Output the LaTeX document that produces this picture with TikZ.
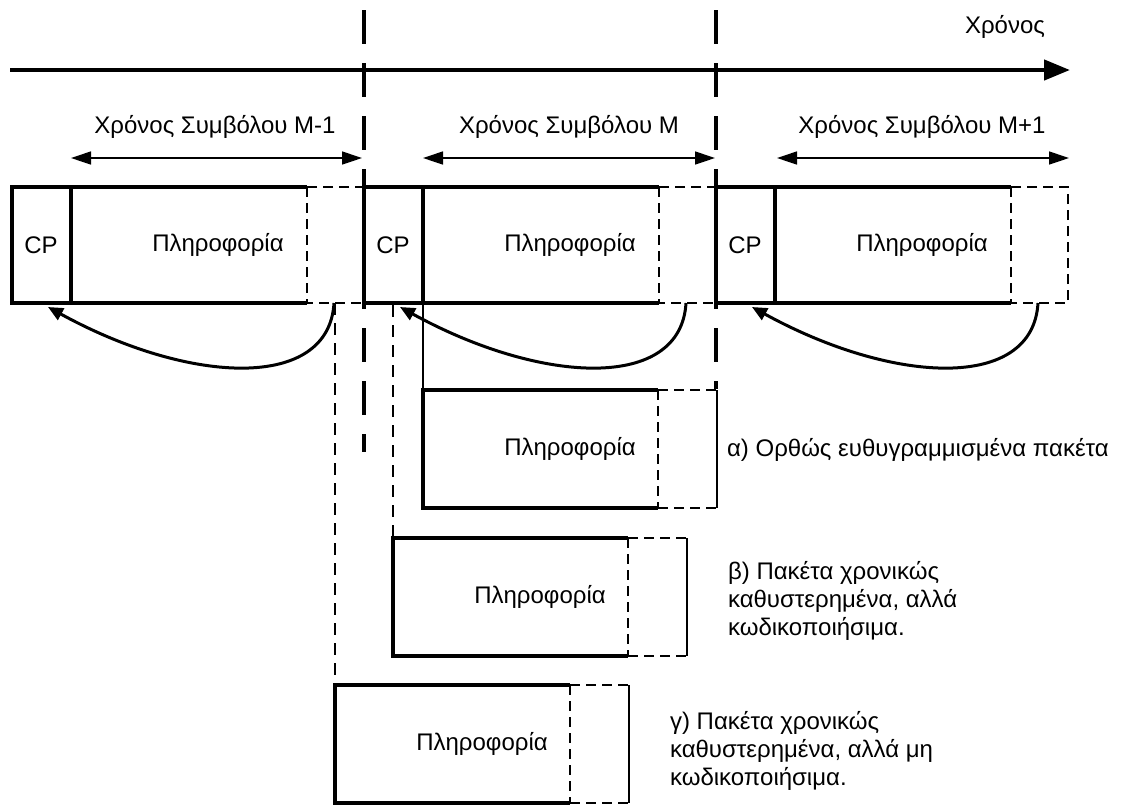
\documentclass[tikz,border=0pt]{standalone}
\usepackage{fontspec}
\setmainfont{Liberation Sans}
\usepackage{tikz}
\usetikzlibrary{arrows.meta}

\tikzset{
    thickline/.style={line width=1.6pt},
    copyline/.style={line width=0.7pt, dash pattern=on 5pt off 3pt},
    guideline/.style={line width=0.7pt, dash pattern=on 6pt off 4pt},
    boundary/.style={line width=2pt, dash pattern=on 17pt off 9.5pt},
    spanarrow/.style={line width=0.7pt, {Triangle[length=10pt,width=6.5pt]}-{Triangle[length=10pt,width=6.5pt]}},
    cpcopy/.style={line width=1.5pt, -{Triangle[length=7.5pt,width=6.5pt]}},
}

\begin{document}
\begin{tikzpicture}[x=50pt, y=-50pt, font=\fontsize{12}{14}\selectfont]
    \useasboundingbox (0,0) rectangle (11.26,8.05);

    % Timeline
    \node (time) at (10.05,0.27) {Χρόνος};
    \coordinate (t0) at (0.10,0.70);
    \coordinate (t1) at (10.70,0.70);
    \draw[line width=2.2pt, -{Triangle[length=13pt,width=10pt]}] (t0) -- (t1);

    % Symbol boundaries
    \draw[boundary] (3.64,0.10) -- (3.64,4.52);
    \draw[boundary] (7.16,0.10) -- (7.16,3.89);

    % Symbol durations
    \foreach \a/\b/\c/\n [count=\i] in {0.71/3.62/2.15/M-1, 4.23/7.15/5.69/M, 7.77/10.69/9.22/M+1} {
        \node (dur\i) at (\c,1.27) {Χρόνος Συμβόλου \n};
        \coordinate (from\i) at (\a,1.58);
        \coordinate (to\i) at (\b,1.58);
        \draw[spanarrow] (from\i) -- (to\i);
    }

    % Symbols with cyclic prefix
    \foreach \s [count=\i] in {0.12,3.64,7.16} {
        \draw[thickline] (\s+2.95,1.87) -- (\s,1.87) -- (\s,3.03) -- (\s+2.95,3.03);
        \draw[thickline] (\s+0.59,1.87) -- (\s+0.59,3.03);
        \draw[copyline] (\s+2.95,1.87) rectangle (\s+3.52,3.03);
        \node (cp\i) at (\s+0.29,2.45) {CP};
        \node (info\i) at (\s+2.06,2.45) {Πληροφορία};
        \coordinate (tail\i) at (\s+3.22,3.03);
        \coordinate (head\i) at (\s+0.36,3.07);
        \draw[cpcopy] (tail\i) .. controls +(-0.05,0.88) and +(1.42,0.78) .. (head\i);
    }

    % Alignment guides
    \draw[guideline] (3.35,3.03) -- (3.35,6.85);
    \draw[guideline] (3.93,3.05) -- (3.93,5.38);
    \draw[line width=0.7pt] (4.23,3.03) -- (4.23,3.90);

    % Received windows
    \foreach \l/\t [count=\i] in {4.23/3.90, 3.93/5.38, 3.35/6.85} {
        \draw[thickline] (\l+2.35,\t) -- (\l,\t) -- (\l,\t+1.18) -- (\l+2.35,\t+1.18);
        \draw[copyline] (\l+2.35,\t) -- (\l+2.94,\t);
        \draw[copyline] (\l+2.35,\t+1.18) -- (\l+2.94,\t+1.18);
        \draw[copyline] (\l+2.35,\t) -- (\l+2.35,\t+1.18);
        \draw[line width=1pt] (\l+2.94,\t) -- (\l+2.94,\t+1.18);
        \node (win\i) at (\l+1.47,\t+0.59) {Πληροφορία};
    }

    % Cases
    \node[anchor=west] (casea) at (7.20,4.50) {α) Ορθώς ευθυγραμμισμένα πακέτα};
    \node[anchor=west, align=left] (caseb) at (7.21,6.01) {β) Πακέτα χρονικώς\\καθυστερημένα, αλλά\\κωδικοποιήσιμα.};
    \node[anchor=west, align=left] (casec) at (6.63,7.51) {γ) Πακέτα χρονικώς\\καθυστερημένα, αλλά μη\\κωδικοποιήσιμα.};
\end{tikzpicture}
\end{document}
